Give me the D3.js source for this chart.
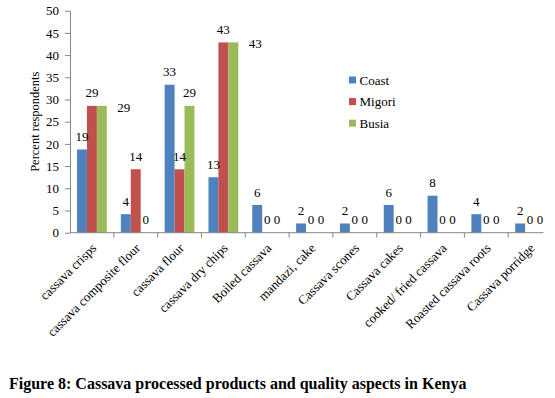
<!DOCTYPE html>
<html>
<head>
<meta charset="utf-8">
<script src="https://cdn.jsdelivr.net/npm/d3@7"></script>
<style>
  html, body { margin: 0; padding: 0; background: #fff; }
  svg { display: block; font-family: "Liberation Serif", "Times New Roman", serif; }
</style>
</head>
<body>
<svg id="chart" width="555" height="398"></svg>
<script>
const categories = ["cassava crisps", "cassava composite flour", "cassava flour", "cassava dry chips",
  "Boiled cassava", "mandazi, cake", "Cassava scones", "Cassava cakes", "cooked/ fried cassava",
  "Roasted cassava roots", "Cassava porridge"];
const seriesNames = ["Coast", "Migori", "Busia"];
const coast  = [18.75, 4.17, 33.33, 12.5, 6.25, 2.08, 2.08, 6.25, 8.33, 4.17, 2.08];
const migori = [28.57, 14.29, 14.29, 42.86, 0, 0, 0, 0, 0, 0, 0];
const busia  = [28.57, 0, 28.57, 42.86, 0, 0, 0, 0, 0, 0, 0];
const yTicks = [0, 5, 10, 15, 20, 25, 30, 35, 40, 45, 50];
const colors = ["#4F81BD", "#C0504D", "#9BBB59"];
const caption = "Figure 8: Cassava processed products and quality aspects in Kenya";

(function () {
const values = [coast, migori, busia];
const svg = d3.select("#chart");

const mLeft = 70, mRight = 552, mTop = 10.7, mBottom = 232.7;
const x0 = d3.scaleBand().domain(categories).range([mLeft, mRight]).padding(0);
const bw = x0.bandwidth();
const x1 = d3.scaleBand().domain(seriesNames).range([bw * 0.16, bw * 0.84]).padding(0);
const y = d3.scaleLinear().domain([0, 50]).range([mBottom, mTop]);

svg.append("defs").append("clipPath").attr("id", "clip")
  .append("rect").attr("x", 0).attr("y", 0).attr("width", 543.5).attr("height", 398);

const g = svg.append("g").attr("clip-path", "url(#clip)");

// bars
categories.forEach((c, i) => {
  seriesNames.forEach((s, j) => {
    const v = values[j][i];
    if (v > 0) {
      g.append("rect")
        .attr("x", x0(c) + x1(s))
        .attr("y", y(v))
        .attr("width", x1.bandwidth())
        .attr("height", y(0) - y(v))
        .attr("fill", colors[j]);
    }
  });
});

// data labels
categories.forEach((c, i) => {
  seriesNames.forEach((s, j) => {
    const v = values[j][i];
    let lx = x0(c) + x1(s) + x1.bandwidth() / 2;
    let ly = y(v) - 13;
    if (j === 2 && v > 0 && v === values[1][i]) { lx += 22; ly = y(v) + 1.5; }
    g.append("text")
      .attr("x", lx).attr("y", ly)
      .attr("dy", "0.35em")
      .attr("text-anchor", "middle")
      .attr("font-size", 13)
      .attr("fill", "#000")
      .text(Math.round(v));
  });
});

// y axis
const yAxis = d3.axisLeft(y).tickValues(yTicks).tickSize(5).tickPadding(6).tickSizeOuter(0);
const ya = svg.append("g").attr("transform", `translate(${mLeft},0)`).call(yAxis);
ya.select(".domain").attr("stroke", "#868686");
ya.selectAll(".tick line").attr("stroke", "#868686");
ya.selectAll(".tick text").attr("font-size", 13).attr("fill", "#000")
  .attr("font-family", "'Liberation Serif', serif");

// x axis
const xa = g.append("g").attr("transform", `translate(0,${mBottom})`);
xa.append("line").attr("x1", mLeft).attr("x2", mRight).attr("y1", 0).attr("y2", 0).attr("stroke", "#868686");
const boundaries = categories.map(c => x0(c)).concat([mRight]);
xa.selectAll("line.tk").data(boundaries.slice(1)).enter().append("line").attr("class", "tk")
  .attr("x1", d => d).attr("x2", d => d).attr("y1", 0).attr("y2", 5).attr("stroke", "#868686");

// x labels
svg.append("g").selectAll("text").data(categories).enter().append("text")
  .attr("transform", d => `translate(${x0(d) + bw / 2 + 2},${mBottom + 13}) rotate(-45)`)
  .attr("text-anchor", "end")
  .attr("dy", "0.35em")
  .attr("font-size", 13)
  .attr("fill", "#000")
  .text(d => d);

// y title
svg.append("text")
  .attr("transform", `translate(34.5,121.7) rotate(-90)`)
  .attr("text-anchor", "middle")
  .attr("dy", "0.35em")
  .attr("font-size", 12.5)
  .text("Percent respondents");

// legend
const lg = svg.append("g");
seriesNames.forEach((s, j) => {
  const ly = 80 + j * 21.6;
  lg.append("rect").attr("x", 349).attr("y", ly - 3.5).attr("width", 7).attr("height", 7).attr("fill", colors[j]);
  lg.append("text").attr("x", 359.5).attr("y", ly).attr("dy", "0.35em").attr("font-size", 13).text(s);
});

// caption
svg.append("text")
  .attr("x", 9).attr("y", 383).attr("dy", "0.35em")
  .attr("font-size", 16).attr("font-weight", "bold")
  .text(caption);
})();
</script>
</body>
</html>
